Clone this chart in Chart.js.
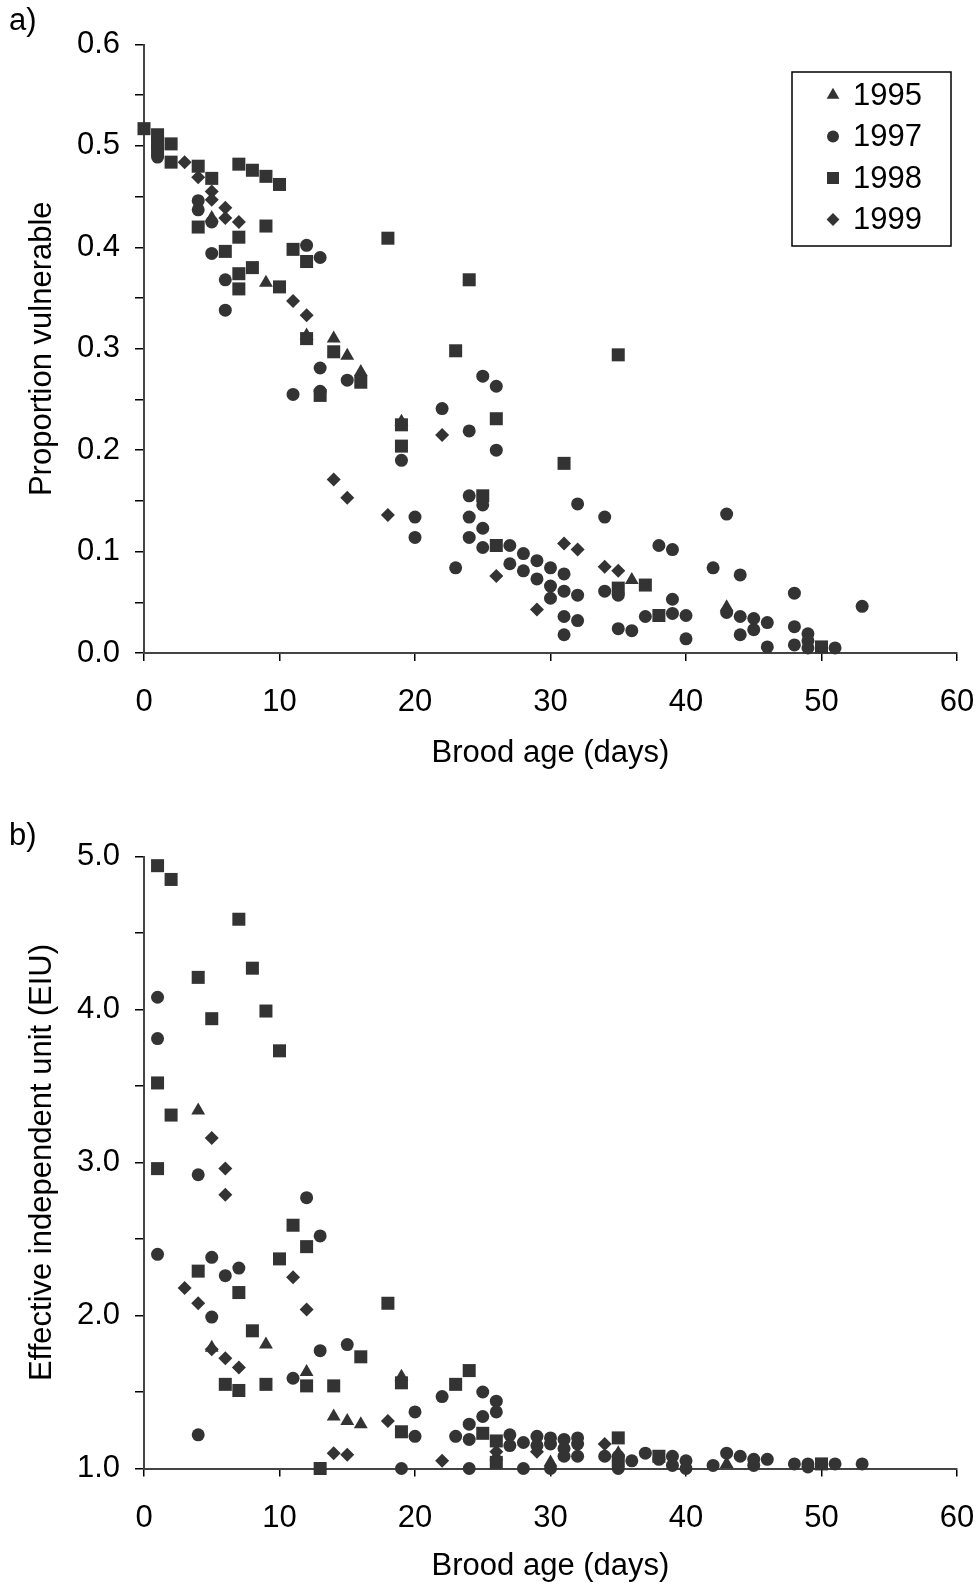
<!DOCTYPE html>
<html>
<head>
<meta charset="utf-8">
<script src="https://cdn.jsdelivr.net/npm/chart.js@4.4.0/dist/chart.umd.min.js"></script>
<style>
  html, body { margin: 0; padding: 0; background: #fff; }
  body { width: 979px; height: 1587px; position: relative; overflow: hidden; }
  canvas { position: absolute; left: 0; }
  #top { top: 0; }
  #bottom { top: 812px; }
</style>
</head>
<body>
<canvas id="top" width="979" height="812"></canvas>
<canvas id="bottom" width="979" height="775"></canvas>
<script>
const years = ['1995', '1997', '1998', '1999'];
const markers = ['triangle', 'circle', 'rect', 'rectRot'];
const sizes = [8, 6.5, 9.2, 7];

// a) proportion vulnerable, [brood age, value]
const prop1995 = [[5,0.429],[9,0.365],[12,0.313],[14,0.31],[15,0.293],[16,0.277],[19,0.228],[36,0.072],[43,0.045]];
const prop1997 = [[1,0.489],[4,0.446],[4,0.437],[5,0.425],[5,0.394],[6,0.368],[6,0.338],[11,0.255],[12,0.402],[13,0.39],
  [13,0.281],[13,0.258],[15,0.269],[19,0.19],[20,0.134],[20,0.114],[22,0.241],[23,0.084],[24,0.219],[24,0.155],
  [24,0.134],[24,0.114],[25,0.273],[25,0.146],[25,0.123],[25,0.104],[26,0.263],[26,0.2],[27,0.106],[27,0.088],
  [28,0.098],[28,0.081],[29,0.091],[29,0.073],[30,0.084],[30,0.066],[30,0.054],[31,0.078],[31,0.061],[31,0.036],
  [31,0.018],[32,0.147],[32,0.057],[32,0.032],[34,0.134],[34,0.061],[35,0.057],[35,0.024],[36,0.022],[37,0.036],
  [38,0.106],[39,0.102],[39,0.053],[39,0.039],[40,0.037],[40,0.014],[42,0.084],[43,0.137],[43,0.04],[44,0.077],
  [44,0.036],[44,0.018],[45,0.034],[45,0.023],[46,0.03],[46,0.006],[48,0.059],[48,0.026],[48,0.008],[49,0.019],
  [49,0.012],[49,0.005],[51,0.005],[53,0.046]];
const prop1998 = [[0,0.517],[1,0.511],[1,0.503],[1,0.496],[2,0.502],[2,0.484],[4,0.48],[4,0.42],[5,0.468],[6,0.396],
  [7,0.482],[7,0.41],[7,0.374],[7,0.359],[8,0.476],[8,0.38],[9,0.47],[9,0.421],[10,0.462],[10,0.361],
  [11,0.398],[12,0.386],[12,0.31],[13,0.254],[14,0.297],[16,0.267],[18,0.409],[19,0.225],[19,0.204],[23,0.298],
  [24,0.368],[25,0.155],[26,0.231],[26,0.106],[31,0.187],[35,0.294],[35,0.064],[37,0.067],[38,0.037],[50,0.006]];
const prop1999 = [[3,0.484],[4,0.469],[5,0.455],[5,0.447],[6,0.439],[6,0.429],[7,0.425],[11,0.347],[12,0.333],[14,0.171],
  [15,0.153],[18,0.136],[22,0.215],[26,0.076],[29,0.043],[31,0.108],[32,0.102],[34,0.085],[35,0.081]];

// b) effective independent unit
const eiu1995 = [[4,3.34],[5,1.79],[9,1.81],[12,1.63],[14,1.34],[15,1.31],[16,1.29],[19,1.6],[26,1.08],[30,1.04],[35,1.1],[43,1.03]];
const eiu1997 = [[1,4.08],[1,3.81],[1,2.4],[4,2.92],[4,1.22],[5,2.38],[5,1.99],[6,2.26],[7,2.31],[11,1.59],
  [12,2.77],[13,2.52],[13,1.77],[15,1.81],[19,1.0],[20,1.37],[20,1.21],[22,1.47],[23,1.21],[24,1.29],
  [24,1.19],[24,1.0],[25,1.5],[25,1.34],[26,1.44],[26,1.37],[27,1.22],[27,1.15],[28,1.17],[28,1.0],
  [29,1.21],[29,1.15],[30,1.2],[30,1.16],[30,1.0],[31,1.19],[31,1.13],[31,1.08],[32,1.2],[32,1.16],
  [32,1.08],[34,1.08],[35,1.08],[35,1.0],[36,1.05],[37,1.1],[38,1.06],[39,1.08],[39,1.02],[40,1.05],
  [40,1.0],[42,1.02],[43,1.1],[44,1.08],[45,1.06],[45,1.02],[46,1.06],[48,1.03],[49,1.03],[49,1.01],
  [51,1.03],[53,1.03]];
const eiu1998 = [[1,4.94],[1,3.52],[1,2.96],[2,4.85],[2,3.31],[4,4.21],[4,2.29],[5,3.94],[6,1.55],[7,4.59],
  [7,2.15],[7,1.51],[8,4.27],[8,1.9],[9,3.99],[9,1.55],[10,3.73],[10,2.37],[11,2.59],[12,2.45],
  [12,1.54],[13,1.0],[14,1.54],[16,1.73],[18,2.08],[19,1.56],[19,1.24],[23,1.55],[24,1.64],[25,1.23],
  [26,1.18],[26,1.04],[35,1.2],[35,1.05],[38,1.08],[50,1.03]];
const eiu1999 = [[3,2.18],[4,2.08],[5,3.16],[5,1.78],[6,2.96],[6,2.79],[6,1.72],[7,1.66],[11,2.25],[12,2.04],
  [14,1.1],[15,1.09],[18,1.31],[22,1.05],[26,1.11],[29,1.11],[34,1.16]];

const FONT = "'Liberation Sans', Arial, sans-serif";
Chart.defaults.font.family = FONT;
Chart.defaults.font.size = 31;
Chart.defaults.color = '#000';

function series(sets) {
  return sets.map((pts, i) => ({
    label: years[i],
    data: pts.map(p => ({ x: p[0], y: p[1] })),
    pointStyle: markers[i],
    pointRadius: sizes[i],
    pointHoverRadius: sizes[i],
    backgroundColor: '#333',
    borderColor: '#333',
    borderWidth: 0,
    clip: false,
    order: 4 - i
  }));
}

// "a)" / "b)" in the corner
const panelLabel = {
  id: 'panelLabel',
  afterDraw(chart, args, opts) {
    const ctx = chart.ctx;
    ctx.save();
    ctx.font = '31px ' + FONT;
    ctx.fillStyle = '#000';
    ctx.textBaseline = 'middle';
    ctx.fillText(opts.text, opts.x, opts.y);
    ctx.restore();
  }
};

// boxed legend inside the plot, like the original
const boxLegend = {
  id: 'boxLegend',
  afterDraw(chart, args, opts) {
    if (!opts.show) return;
    const ctx = chart.ctx;
    ctx.save();
    ctx.strokeStyle = '#000';
    ctx.lineWidth = 1.5;
    ctx.strokeRect(792, 72, 159, 174);
    ctx.font = '31px ' + FONT;
    ctx.textBaseline = 'middle';
    years.forEach((y, i) => {
      const cy = 95 + i * 41.5;
      ctx.fillStyle = '#333';
      Chart.helpers.drawPoint(ctx, { pointStyle: markers[i], radius: sizes[i] * 0.92, rotation: 0, borderWidth: 0 }, 833, cy);
      ctx.fillStyle = '#000';
      ctx.fillText(y, 853, cy + 1);
    });
    ctx.restore();
  }
};

function makeChart(id, sets, cfg) {
  return new Chart(document.getElementById(id), {
    type: 'scatter',
    data: { datasets: series(sets) },
    options: {
      responsive: false,
      animation: false,
      devicePixelRatio: 1,
      layout: { padding: { left: 0, right: 22, top: cfg.top, bottom: 0 } },
      plugins: {
        legend: { display: false },
        tooltip: { enabled: false },
        panelLabel: cfg.label,
        boxLegend: { show: cfg.legend }
      },
      scales: {
        x: {
          type: 'linear', min: 0, max: 60,
          ticks: { stepSize: 10, padding: 23, maxRotation: 0 },
          grid: { drawOnChartArea: false, drawTicks: true, tickLength: 8, color: '#000', lineWidth: 1.5 },
          border: { color: '#444', width: 2 },
          title: { display: true, text: 'Brood age (days)', padding: { top: 0, bottom: cfg.xTitlePad } },
          afterFit: s => { s.height = cfg.xHeight; s.paddingRight = 0; }
        },
        y: {
          type: 'linear', min: cfg.min, max: cfg.max,
          ticks: {
            stepSize: cfg.step, padding: 15, autoSkip: false,
            callback: v => Math.abs(v / cfg.major - Math.round(v / cfg.major)) < 1e-6 ? v.toFixed(1) : ''
          },
          grid: { drawOnChartArea: false, drawTicks: true, tickLength: 9, color: '#000', lineWidth: 1.5 },
          border: { color: '#444', width: 2 },
          title: { display: true, text: cfg.yTitle, padding: { top: 24, bottom: 0 } },
          afterFit: s => { s.width = 144; }
        }
      }
    },
    plugins: [panelLabel, boxLegend]
  });
}

makeChart('top', [prop1995, prop1997, prop1998, prop1999], {
  top: 44.5, xHeight: 159, xTitlePad: 40,
  min: 0, max: 0.6, step: 0.05, major: 0.1,
  yTitle: 'Proportion vulnerable',
  label: { text: 'a)', x: 9, y: 21 },
  legend: true
});

makeChart('bottom', [eiu1995, eiu1997, eiu1998, eiu1999], {
  top: 44.5, xHeight: 118.5, xTitlePad: 1.5,
  min: 1, max: 5, step: 0.5, major: 1,
  yTitle: 'Effective independent unit (EIU)',
  label: { text: 'b)', x: 9, y: 24 },
  legend: false
});
</script>
</body>
</html>
